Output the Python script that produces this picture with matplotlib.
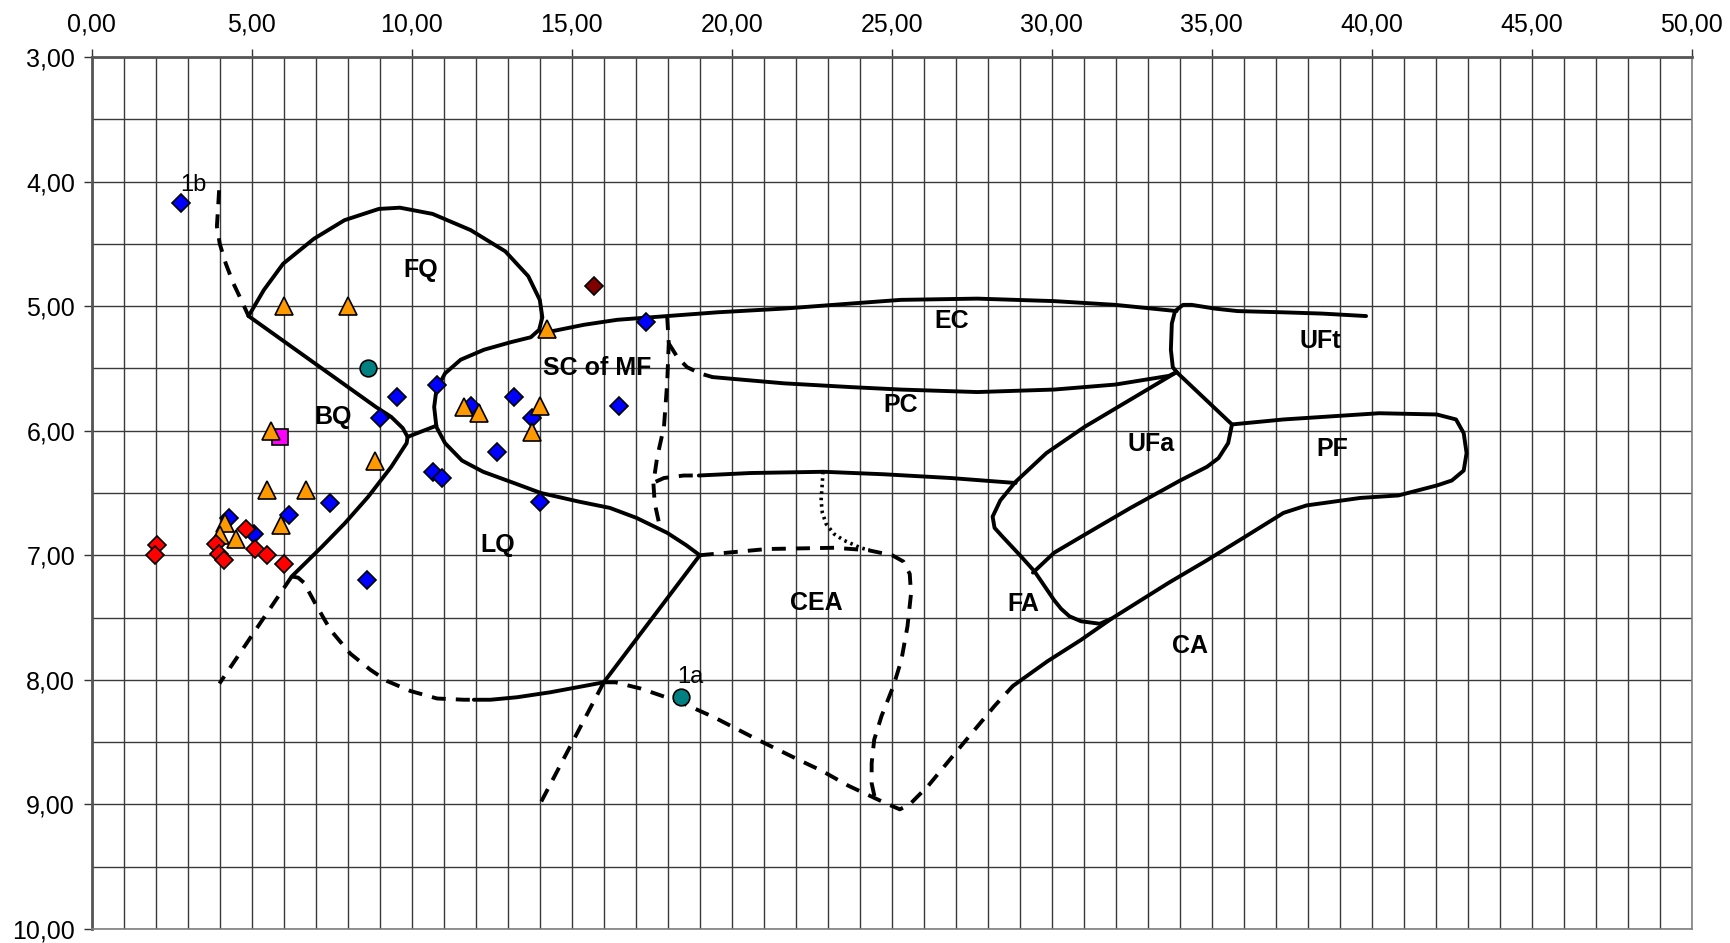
import matplotlib
matplotlib.use("Agg")
import matplotlib.pyplot as plt
from matplotlib.ticker import FuncFormatter, MultipleLocator

plt.rcParams["font.family"] = ["Liberation Sans", "DejaVu Sans"]

# sample points
blue_x = [2.8, 4.29, 5.07, 6.17, 7.45, 8.6, 9.0, 9.54, 10.8, 10.65, 10.94,
          11.85, 12.66, 13.19, 13.75, 14.0, 16.49, 17.32]
blue_y = [4.17, 6.70, 6.83, 6.68, 6.58, 7.2, 5.9, 5.73, 5.63, 6.33, 6.38,
          5.8, 6.17, 5.73, 5.90, 6.57, 5.80, 5.13]
orange_x = [6.0, 8.0, 14.23, 5.61, 8.86, 5.47, 6.7, 4.17, 4.01, 4.52, 5.9,
            11.63, 12.09, 14.0, 13.75]
orange_y = [5.0, 5.0, 5.18, 6.0, 6.24, 6.48, 6.48, 6.74, 6.84, 6.87, 6.76,
            5.81, 5.86, 5.80, 6.01]
red_x = [2.05, 1.97, 3.88, 3.98, 4.14, 4.81, 5.09, 5.47, 6.01]
red_y = [6.92, 7.0, 6.91, 6.99, 7.04, 6.79, 6.95, 7.0, 7.07]
teal_x = [8.64, 18.42]
teal_y = [5.5, 8.14]
magenta_x = [5.89]
magenta_y = [6.05]
darkred_x = [15.7]
darkred_y = [4.84]

# field boundaries (x, y)
fq_outline = [(4.9, 5.08), (5.38, 4.87), (5.98, 4.66), (6.94, 4.46), (7.9, 4.31),
              (8.97, 4.22), (9.63, 4.21), (10.65, 4.26), (11.84, 4.39),
              (12.92, 4.56), (13.64, 4.76), (14.0, 4.95), (14.08, 5.09),
              (13.98, 5.19), (13.72, 5.25), (13.09, 5.29), (12.26, 5.35),
              (11.53, 5.43), (11.04, 5.54), (10.77, 5.67), (10.7, 5.81),
              (10.77, 5.97), (11.04, 6.10), (11.57, 6.24), (12.23, 6.33),
              (13.19, 6.42), (14.03, 6.50), (15.23, 6.57), (16.19, 6.62),
              (17.02, 6.70), (17.98, 6.82), (18.58, 6.92), (19.0, 7.0)]
bq_upper = [(4.9, 5.08), (8.88, 5.81), (9.36, 5.89), (9.72, 5.98), (9.87, 6.05)]
bq_lower = [(9.87, 6.05), (9.84, 6.10), (9.36, 6.29), (8.64, 6.53),
            (7.92, 6.74), (7.2, 6.93), (6.25, 7.17)]
bq_tie = [(9.87, 6.05), (10.77, 5.96)]
bq_dashed_top = [(3.98, 4.07), (3.95, 4.2), (3.91, 4.36), (4.0, 4.5),
                 (4.19, 4.66), (4.43, 4.82), (4.67, 4.95), (4.9, 5.08)]
bq_dashed_left = [(6.25, 7.17), (3.99, 8.03)]
lq_lower_dashed = [(6.25, 7.17), (6.45, 7.18), (6.63, 7.22), (6.99, 7.39),
                   (7.46, 7.6), (8.08, 7.79), (8.71, 7.92), (9.23, 8.01),
                   (9.96, 8.09), (10.79, 8.15), (11.63, 8.16), (11.94, 8.16)]
lq_lower_solid = [(11.94, 8.16), (12.46, 8.16), (13.29, 8.14), (14.33, 8.1),
                  (15.38, 8.05), (16.0, 8.02)]
lq_cea_line = [(19.0, 7.0), (16.0, 8.02)]
lq_dashed_tail = [(16.0, 8.02), (14.0, 9.0)]
cea_lower_dashed = [(16.0, 8.02), (16.36, 8.02), (17.15, 8.07), (18.4, 8.18),
                    (19.44, 8.3), (20.8, 8.48), (22.15, 8.65), (22.81, 8.73),
                    (23.64, 8.85), (24.47, 8.95), (24.89, 9.0), (25.25, 9.04),
                    (25.56, 9.0), (26.14, 8.85), (27.17, 8.53), (28.21, 8.21),
                    (28.78, 8.05)]
cea_upper_dashed = [(19.0, 7.0), (21.1, 6.95), (23.2, 6.94), (24.27, 6.96),
                    (25.01, 7.0), (25.36, 7.05), (25.56, 7.15), (25.6, 7.31),
                    (25.49, 7.57), (25.3, 7.84), (25.05, 8.05), (24.68, 8.29),
                    (24.45, 8.48), (24.37, 8.67), (24.37, 8.83), (24.47, 8.95)]
ca_boundary = [(28.78, 8.05), (29.87, 7.85), (30.91, 7.68), (31.86, 7.51),
               (33.66, 7.22), (34.85, 7.04), (36.05, 6.85), (37.24, 6.66),
               (37.96, 6.6), (39.64, 6.54), (40.83, 6.52), (42.03, 6.44),
               (42.5, 6.4), (42.87, 6.32), (42.96, 6.18), (42.87, 6.02),
               (42.63, 5.91), (42.03, 5.87), (40.23, 5.86), (38.44, 5.89),
               (37.24, 5.91), (35.63, 5.95)]
ufa_pf_line = [(33.9, 5.53), (35.63, 5.95), (35.51, 6.1), (35.21, 6.22),
               (34.85, 6.29), (34.01, 6.4), (32.46, 6.62), (31.26, 6.8),
               (30.07, 6.98), (29.41, 7.14)]
ufa_outline = [(33.9, 5.53), (32.46, 5.75), (31.02, 5.97), (29.83, 6.18),
               (28.87, 6.41), (28.39, 6.56), (28.15, 6.69), (28.21, 6.78),
               (28.42, 6.84), (29.04, 7.01), (29.46, 7.13), (30.07, 7.36),
               (30.29, 7.43), (30.55, 7.49), (30.91, 7.53), (31.5, 7.55),
               (31.86, 7.51)]
ec_line = [(14.03, 5.22), (15.38, 5.15), (16.42, 5.11), (17.98, 5.08),
           (19.54, 5.05), (21.63, 5.02), (23.7, 4.98), (25.28, 4.95),
           (27.67, 4.94), (30.07, 4.96), (31.98, 4.99), (33.9, 5.04)]
uft_outline = [(33.9, 5.53), (33.78, 5.49), (33.72, 5.35), (33.75, 5.14),
               (33.85, 5.04), (34.1, 4.99), (34.37, 4.99), (35.09, 5.02),
               (35.8, 5.04), (37.24, 5.05), (38.44, 5.06), (39.82, 5.08)]
pc_line = [(19.4, 5.57), (21.63, 5.62), (23.7, 5.65), (25.28, 5.67),
           (27.67, 5.69), (30.07, 5.67), (31.98, 5.63), (33.66, 5.56),
           (33.9, 5.53)]
sc_dashed_divider = [(17.98, 5.08), (18.03, 5.3), (17.98, 5.62), (17.88, 5.97),
                     (17.67, 6.21), (17.55, 6.42), (17.59, 6.58), (17.75, 6.77)]
pc_dashed_branch = [(18.03, 5.3), (18.3, 5.41), (18.6, 5.49), (19.0, 5.54),
                    (19.4, 5.57)]
lower_dashed_branch = [(17.62, 6.41), (17.88, 6.38), (18.5, 6.36), (18.97, 6.36)]
lower_solid = [(18.97, 6.36), (20.58, 6.34), (22.87, 6.33), (24.75, 6.35),
               (26.83, 6.38), (28.87, 6.42)]
cea_dotted = [(22.85, 6.33), (22.82, 6.45), (22.79, 6.56), (22.83, 6.66),
              (22.95, 6.75), (23.2, 6.83), (23.5, 6.88), (24.02, 6.94),
              (24.3, 6.96)]

field_names = ["FQ", "BQ", "SC of MF", "LQ", "EC", "PC", "UFt", "UFa", "PF",
               "CEA", "FA", "CA"]
field_x = [10.28, 7.54, 15.8, 12.69, 26.86, 25.28, 38.38, 33.1, 38.76,
           22.65, 29.1, 34.31]
field_y = [4.71, 5.89, 5.5, 6.92, 5.12, 5.79, 5.28, 6.11, 6.15,
           7.38, 7.39, 7.73]

solid_curves = [fq_outline, bq_upper, bq_lower, bq_tie, lq_lower_solid,
                lq_cea_line, ca_boundary, ufa_pf_line, ufa_outline, ec_line,
                uft_outline, pc_line, lower_solid]
dashed_curves = [bq_dashed_top, bq_dashed_left, lq_lower_dashed, lq_dashed_tail,
                 cea_lower_dashed, cea_upper_dashed, sc_dashed_divider,
                 pc_dashed_branch, lower_dashed_branch]

fig = plt.figure(figsize=(17.31, 9.43), dpi=100)
ax = fig.add_axes([0.053, 0.0149, 0.9244, 0.9247])

ax.set_xlim(0, 50)
ax.set_ylim(10, 3)
ax.xaxis.tick_top()
ax.xaxis.set_major_locator(MultipleLocator(5))
ax.xaxis.set_minor_locator(MultipleLocator(1))
ax.yaxis.set_major_locator(MultipleLocator(1))
ax.yaxis.set_minor_locator(MultipleLocator(0.5))
comma_fmt = FuncFormatter(lambda v, pos: f"{v:.2f}".replace(".", ","))
ax.xaxis.set_major_formatter(comma_fmt)
ax.yaxis.set_major_formatter(comma_fmt)
ax.tick_params(which="major", direction="out", length=6, width=1.0,
               color="#333333", labelsize=18)
ax.tick_params(axis="x", which="major", pad=9)
ax.tick_params(axis="y", which="major", pad=6)
ax.tick_params(which="minor", length=0)
ax.grid(True, which="both", color="#3a3a3a", linewidth=1.0)
ax.set_axisbelow(True)
for side in ["left", "top"]:
    ax.spines[side].set_color("#555555")
    ax.spines[side].set_linewidth(2.0)
for side in ["right", "bottom"]:
    ax.spines[side].set_color("#808080")
    ax.spines[side].set_linewidth(1.2)

for curve in solid_curves:
    xs, ys = zip(*curve)
    ax.plot(xs, ys, color="black", linewidth=2.8, solid_capstyle="round",
            solid_joinstyle="round", zorder=3)
for curve in dashed_curves:
    xs, ys = zip(*curve)
    ax.plot(xs, ys, color="black", linewidth=2.8, dashes=(3.6, 2.6), zorder=3)
xs, ys = zip(*cea_dotted)
ax.plot(xs, ys, color="black", linewidth=2.6, dashes=(0.7, 1.1), zorder=3)

for name, x, y in zip(field_names, field_x, field_y):
    ax.text(x, y, name, fontsize=18, fontweight="bold", ha="center",
            va="center", zorder=4)

ax.plot(blue_x, blue_y, "D", color="#0000ff", markersize=9.5,
        markeredgecolor="black", markeredgewidth=1.2, zorder=5)
ax.plot(magenta_x, magenta_y, "s", color="#ff00ff", markersize=11,
        markeredgecolor="black", markeredgewidth=1.2, zorder=5)
ax.plot(orange_x, orange_y, "^", color="#ff9900", markersize=13,
        markeredgecolor="black", markeredgewidth=1.2, zorder=5)
ax.plot(red_x, red_y, "D", color="#ff0000", markersize=9.5,
        markeredgecolor="black", markeredgewidth=1.2, zorder=5)
ax.plot(teal_x, teal_y, "o", color="#008080", markersize=12,
        markeredgecolor="black", markeredgewidth=1.2, zorder=5)
ax.plot(darkred_x, darkred_y, "D", color="#800000", markersize=9.5,
        markeredgecolor="black", markeredgewidth=1.2, zorder=5)

ax.text(2.75, 4.03, "1b", fontsize=17, ha="left", va="center", zorder=6)
ax.text(18.3, 7.98, "1a", fontsize=17, ha="left", va="center", zorder=6)

fig.savefig("out.png", dpi=100)
